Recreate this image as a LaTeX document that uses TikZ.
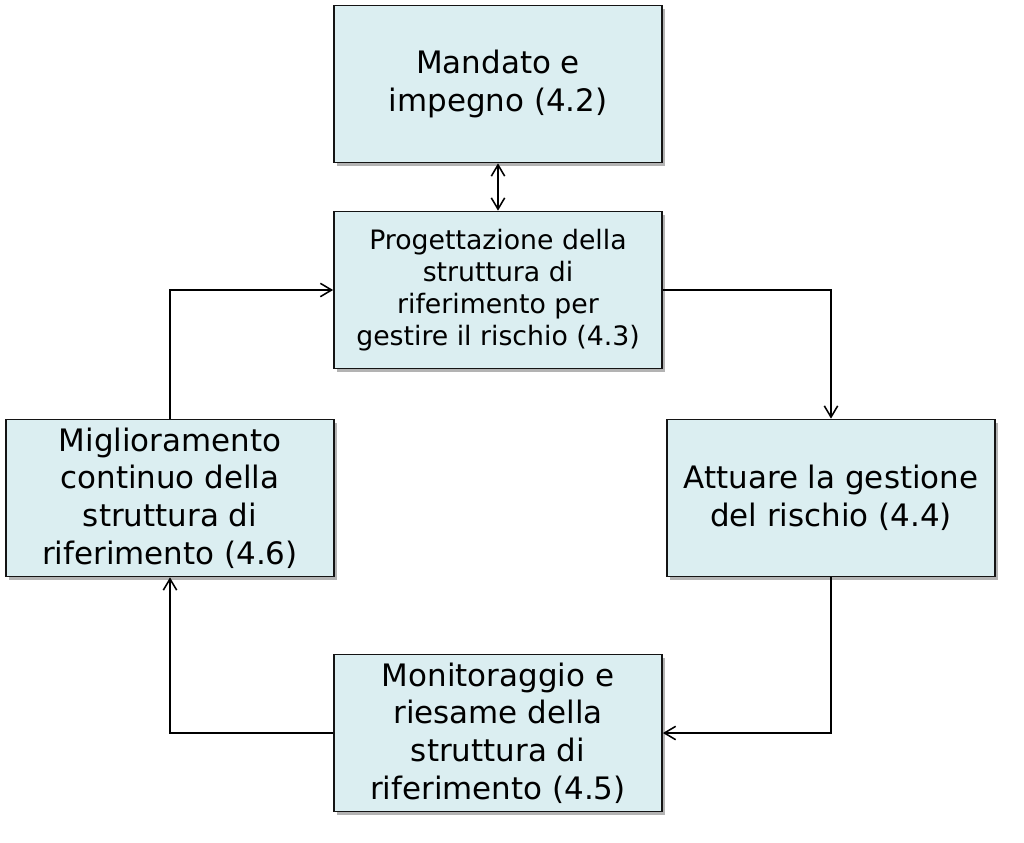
\documentclass[tikz,border=0pt]{standalone}
\usepackage{xcolor}
\usepackage{fontspec}
\setmainfont{DejaVu Sans}
\usepackage{tikz}
\usetikzlibrary{arrows.meta, positioning, shadows}
\definecolor{BoxFill}{RGB}{219, 238, 241}
\definecolor{BoxLine}{RGB}{20, 20, 20}

\begin{document}
\begin{tikzpicture}[x=0.025cm, y=-0.025cm,
    box/.style={draw=BoxLine, line width=1.2pt, fill=BoxFill, align=center,
      minimum width=8.2cm, minimum height=3.925cm, inner sep=0pt,
      font=\fontsize{22}{26.7}\selectfont,
      drop shadow={shadow xshift=2.4pt, shadow yshift=-2.4pt, opacity=0.6, fill=gray}},
    boxsmall/.style={box, font=\fontsize{19}{22.7}\selectfont},
    barb/.tip={Straight Barb[length=8pt, width=9.5pt]},
    flow/.style={line width=1.1pt, -barb}]
    \path[use as bounding box] (0,0) rectangle (1024,842);
    \node[box] (mandato) at (498,84) {Mandato e\\impegno (4.2)};
    \node[boxsmall] (progetto) at (498,290) {Progettazione della\\struttura di\\riferimento per\\gestire il rischio (4.3)};
    \node[box] (miglior) at (170,498) {Miglioramento\\continuo della\\struttura di\\riferimento (4.6)};
    \node[box] (attuare) at (831,498) {Attuare la gestione\\del rischio (4.4)};
    \node[box] (monitor) at (498,733) {Monitoraggio e\\riesame della\\struttura di\\riferimento (4.5)};
    \draw[flow, barb-barb] (mandato.south) -- (progetto.north);
    \draw[flow] (progetto.east) -| (attuare.north);
    \draw[flow] (attuare.south) |- (monitor.east);
    \draw[flow] (monitor.west) -| (miglior.south);
    \draw[flow] (miglior.north) |- (progetto.west);
\end{tikzpicture}
\end{document}
